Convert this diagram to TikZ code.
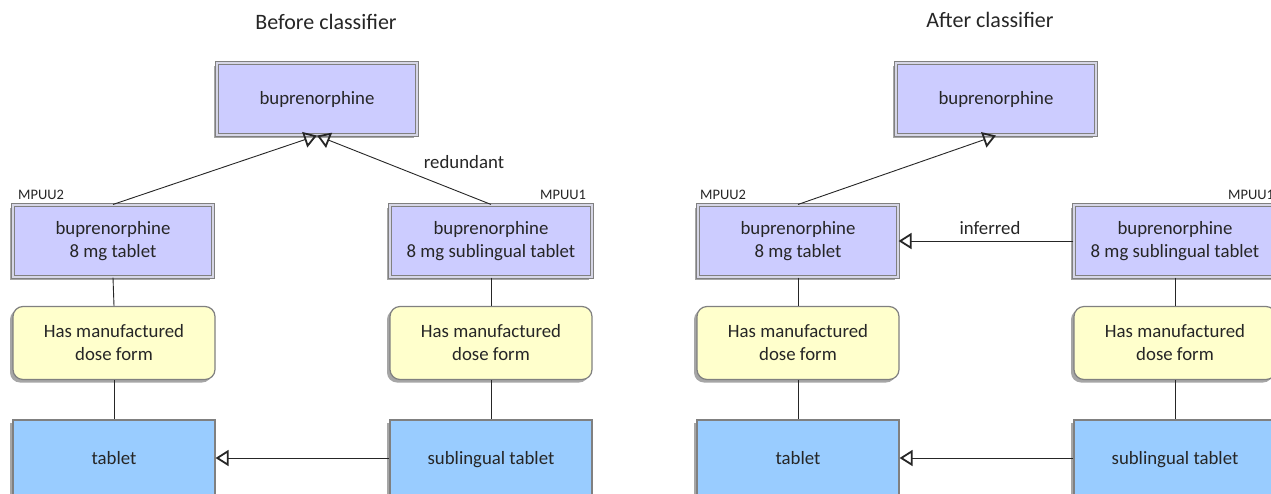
\documentclass[tikz,border=0pt]{standalone}
\usepackage{fontspec}
\setmainfont{Carlito}
\usetikzlibrary{arrows.meta,shadows}
\definecolor{lav}{HTML}{CCCCFF}
\definecolor{yel}{HTML}{FFFFCC}
\definecolor{blu}{HTML}{99CCFF}
\definecolor{bord}{HTML}{808080}
\definecolor{dbl}{HTML}{D6D6E6}
\definecolor{txt}{HTML}{262626}
\begin{document}
\begin{tikzpicture}[x=1pt,y=-1pt,
  every node/.style={text=txt, font=\fontsize{18.8}{23}\selectfont, align=center, inner sep=0pt},
  shad/.style={drop shadow={shadow xshift=-3pt,shadow yshift=-3pt,fill=black,opacity=0.35}},
  concept/.style={shad, draw=bord, line width=1.1pt, double=dbl, double distance=1.8pt, fill=lav, minimum width=200pt, minimum height=72pt},
  attr/.style={shad, draw=bord, line width=1.2pt, rounded corners=10pt, fill=yel, minimum width=202pt, minimum height=73pt},
  form/.style={shad, draw=bord, line width=1.2pt, fill=blu, minimum width=202pt, minimum height=76pt, text height=16pt, text depth=4pt},
  title/.style={font=\fontsize{22}{26}\selectfont},
  small/.style={font=\fontsize{14.5}{17}\selectfont},
  conn/.style={draw=black!85, line width=0.9pt},
  isa/.style={conn, -{Triangle[open,length=13pt,width=16pt,line width=1.8pt]}}
]
\path[use as bounding box, clip] (0,0) rectangle (1271,493);
\fill[white] (0,0) rectangle (1271,493);

% ---------- Left panel ----------
\node[title] (tL) at (326,22) {Before classifier};
\node[concept, text height=15pt, text depth=4pt] (topL) at (317,99) {buprenorphine};
\node[concept] (m2L) at (113,241) {buprenorphine\\8 mg tablet};
\node[concept, minimum width=202pt] (m1L) at (491,241) {buprenorphine\\8 mg sublingual tablet};
\node[small, anchor=west] (lm2L) at (18,195) {MPUU2};
\node[small, anchor=west] (lm1L) at (540,195) {MPUU1};
\node[attr] (h2L) at (114,343) {Has manufactured\\dose form};
\node[attr] (h1L) at (491,343) {Has manufactured\\dose form};
\node[form] (tabL) at (114,458) {tablet};
\node[form] (subL) at (491,458) {sublingual tablet};
\node (redL) at (464,162) {redundant};

\draw[isa] (m2L.north) -- (topL.south);
\draw[isa] (m1L.north) -- (topL.south);
\draw[conn] (m2L.south) -- (h2L.north);
\draw[conn] (h2L.south) -- (tabL.north);
\draw[conn] (m1L.south) -- (h1L.north);
\draw[conn] (h1L.south) -- (subL.north);
\draw[isa] (subL.west) -- (tabL.east);

% ---------- Right panel ----------
\node[title] (tR) at (990,20) {After classifier};
\node[concept, text height=15pt, text depth=4pt] (topR) at (996,99) {buprenorphine};
\node[concept] (m2R) at (798,241) {buprenorphine\\8 mg tablet};
\node[concept, minimum width=202pt] (m1R) at (1175,241) {buprenorphine\\8 mg sublingual tablet};
\node[small, anchor=west] (lm2R) at (700,195) {MPUU2};
\node[small, anchor=west] (lm1R) at (1228,195) {MPUU1};
\node[attr] (h2R) at (798,343) {Has manufactured\\dose form};
\node[attr] (h1R) at (1175,343) {Has manufactured\\dose form};
\node[form] (tabR) at (798,458) {tablet};
\node[form] (subR) at (1175,458) {sublingual tablet};
\node (infR) at (990,228) {inferred};

\draw[isa] (m2R.north) -- (topR.south);
\draw[isa] (m1R.west) -- (m2R.east);
\draw[conn] (m2R.south) -- (h2R.north);
\draw[conn] (h2R.south) -- (tabR.north);
\draw[conn] (m1R.south) -- (h1R.north);
\draw[conn] (h1R.south) -- (subR.north);
\draw[isa] (subR.west) -- (tabR.east);
\end{tikzpicture}
\end{document}
